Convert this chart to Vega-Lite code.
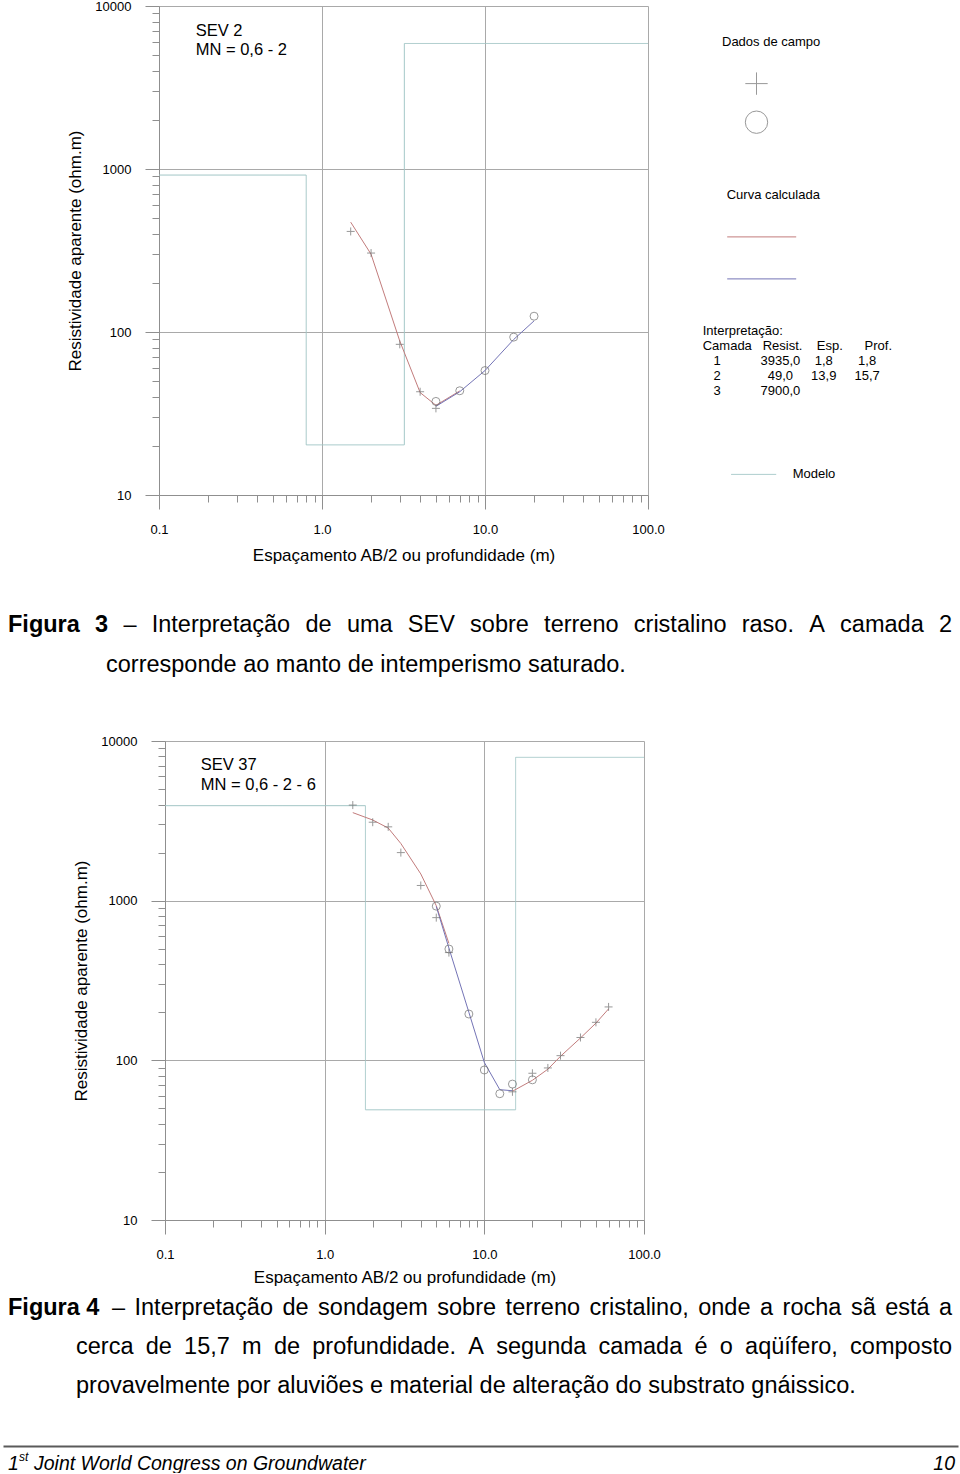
{
  "$schema": "https://vega.github.io/schema/vega-lite/v6.json",
  "background": "white",
  "padding": {"left": 8, "top": 0, "right": 0, "bottom": 0},
  "spacing": 0,
  "bounds": "flush",
  "config": {
    "font": "Liberation Sans",
    "view": {"stroke": null},
    "text": {"font": "Liberation Sans", "color": "#000000", "baseline": "middle", "fontSize": 23.5, "align": "left"},
    "axis": {"labelFont": "Liberation Sans", "titleFont": "Liberation Sans"},
    "legend": {
      "orient": "none", "padding": 0,
      "titleFont": "Liberation Sans", "titleFontSize": 13, "titleFontWeight": "normal", "titleColor": "#000000", "titleLimit": 500,
      "labelFont": "Liberation Sans", "labelFontSize": 13, "labelColor": "#000000", "labelLimit": 500
    }
  },
  "vconcat": [
    {
      "width": 489,
      "height": 489,
      "resolve": {"axis": {"x": "independent", "y": "independent"}},
      "layer": [
        {
          "data": {"values": [
            {"ab2": 0.1, "rho": 918, "serie": "Modelo"},
            {"ab2": 0.8, "rho": 20.3, "serie": "Modelo"},
            {"ab2": 3.2, "rho": 5890, "serie": "Modelo"},
            {"ab2": 100, "rho": 5890, "serie": "Modelo"}
          ]},
          "mark": {"type": "line", "interpolate": "step-after", "color": "#a2c6c6", "strokeWidth": 1},
          "encoding": {
            "x": {
              "field": "ab2", "type": "quantitative",
              "scale": {"type": "log", "domain": [0.1, 100], "nice": false},
              "axis": {
                "orient": "bottom", "values": [0.1, 1, 10, 100], "format": ".1f",
                "tickSize": 14, "grid": true, "gridColor": "#a9a9a9", "gridWidth": 1,
                "domainColor": "#8f8f8f", "tickColor": "#8f8f8f", "tickWidth": 1,
                "labelFontSize": 13, "labelColor": "#000000", "labelPadding": 14, "labelFlush": false, "labelOverlap": false,
                "title": "Espaçamento AB/2 ou profundidade (m)", "titleFontSize": 17, "titleFontWeight": "normal", "titleColor": "#000000", "titlePadding": 11
              }
            },
            "y": {
              "field": "rho", "type": "quantitative",
              "scale": {"type": "log", "domain": [10, 10000], "nice": false},
              "axis": {
                "orient": "left", "values": [10, 100, 1000, 10000], "format": "d",
                "tickSize": 14, "grid": true, "gridColor": "#a9a9a9", "gridWidth": 1,
                "domainColor": "#8f8f8f", "tickColor": "#8f8f8f", "tickWidth": 1,
                "labelFontSize": 13, "labelColor": "#000000", "labelPadding": 14, "labelFlush": false, "labelOverlap": false,
                "title": "Resistividade aparente (ohm.m)", "titleFontSize": 17, "titleFontWeight": "normal", "titleColor": "#000000", "titlePadding": 10
              }
            },
            "strokeDash": {
              "field": "serie", "type": "nominal",
              "scale": {"domain": ["Modelo"], "range": [[1, 0]]},
              "legend": {"title": null, "legendX": 571.7, "legendY": 445.4, "symbolType": "stroke", "symbolSize": 2025, "symbolStrokeColor": "#a2c6c6", "symbolStrokeWidth": 1, "symbolOffset": 0, "labelOffset": 16}
            }
          }
        },
        {
          "data": {"values": [
            {"ab2": 1.5, "rho": 472, "curva": "vermelha", "trecho": "v1"},
            {"ab2": 2, "rho": 300, "curva": "vermelha", "trecho": "v1"},
            {"ab2": 3, "rho": 88, "curva": "vermelha", "trecho": "v1"},
            {"ab2": 4, "rho": 42.5, "curva": "vermelha", "trecho": "v1"},
            {"ab2": 5, "rho": 35.5, "curva": "vermelha", "trecho": "v1"},
            {"ab2": 7, "rho": 43.5, "curva": "vermelha", "trecho": "v1"},
            {"ab2": 5, "rho": 35, "curva": "azul", "trecho": "a1"},
            {"ab2": 7, "rho": 43, "curva": "azul", "trecho": "a1"},
            {"ab2": 10, "rho": 58, "curva": "azul", "trecho": "a1"},
            {"ab2": 15, "rho": 90, "curva": "azul", "trecho": "a1"},
            {"ab2": 20, "rho": 117, "curva": "azul", "trecho": "a1"}
          ]},
          "mark": {"type": "line", "strokeWidth": 1},
          "encoding": {
            "x": {
              "field": "ab2", "type": "quantitative",
              "scale": {"type": "log", "domain": [0.1, 100], "nice": false},
              "axis": {"orient": "bottom", "values": [0.2, 0.3, 0.4, 0.5, 0.6, 0.7, 0.8, 0.9, 2, 3, 4, 5, 6, 7, 8, 9, 20, 30, 40, 50, 60, 70, 80, 90], "tickSize": 7, "tickColor": "#8f8f8f", "tickWidth": 1, "labels": false, "domain": false, "grid": false, "title": null}
            },
            "y": {
              "field": "rho", "type": "quantitative",
              "scale": {"type": "log", "domain": [10, 10000], "nice": false},
              "axis": {"orient": "left", "values": [20, 30, 40, 50, 60, 70, 80, 90, 200, 300, 400, 500, 600, 700, 800, 900, 2000, 3000, 4000, 5000, 6000, 7000, 8000, 9000], "tickSize": 7, "tickColor": "#8f8f8f", "tickWidth": 1, "labels": false, "domain": false, "grid": false, "title": null}
            },
            "detail": {"field": "trecho", "type": "nominal"},
            "color": {
              "field": "curva", "type": "nominal",
              "scale": {"domain": ["vermelha", "azul"], "range": ["#c27c7c", "#7474b6"]},
              "legend": {"title": "Curva calculada", "legendX": 567.7, "legendY": 182.9, "symbolType": "stroke", "symbolSize": 4761, "symbolStrokeWidth": 1, "symbolOffset": 0, "titlePadding": 0, "rowPadding": -30, "labelExpr": "''"}
            }
          }
        },
        {
          "data": {"values": [
            {"ab2": 1.5, "rho": 414, "tipo": "cruz"},
            {"ab2": 2, "rho": 305, "tipo": "cruz"},
            {"ab2": 3, "rho": 84, "tipo": "cruz"},
            {"ab2": 4, "rho": 43, "tipo": "cruz"},
            {"ab2": 5, "rho": 34, "tipo": "cruz"},
            {"ab2": 5, "rho": 37.5, "tipo": "circulo"},
            {"ab2": 7, "rho": 43.6, "tipo": "circulo"},
            {"ab2": 10, "rho": 58, "tipo": "circulo"},
            {"ab2": 15, "rho": 93, "tipo": "circulo"},
            {"ab2": 20, "rho": 125, "tipo": "circulo"}
          ]},
          "mark": {"type": "point", "filled": false, "size": 64, "strokeWidth": 1, "color": "#6e6e6e"},
          "encoding": {
            "x": {"field": "ab2", "type": "quantitative", "scale": {"type": "log", "domain": [0.1, 100], "nice": false}, "axis": null},
            "y": {"field": "rho", "type": "quantitative", "scale": {"type": "log", "domain": [10, 10000], "nice": false}, "axis": null},
            "shape": {
              "field": "tipo", "type": "nominal",
              "scale": {"domain": ["cruz", "circulo"], "range": ["M-1,0L1,0M0,-1L0,1", "circle"]},
              "legend": {"title": "Dados de campo", "legendX": 563, "legendY": 29.6, "symbolSize": 500, "symbolStrokeWidth": 1, "symbolStrokeColor": "#6e6e6e", "symbolOffset": 22.5, "titlePadding": 23, "rowPadding": 10.6, "labelExpr": "''"}
            }
          }
        },
        {
          "data": {"values": [{"rotulo": "SEV 2"}]},
          "mark": {"type": "text", "align": "left", "baseline": "top", "fontSize": 16.5, "lineHeight": 19.3},
          "encoding": {
            "x": {"datum": 0.168, "type": "quantitative", "scale": {"type": "log", "domain": [0.1, 100], "nice": false}, "axis": null},
            "y": {"datum": 7910, "type": "quantitative", "scale": {"type": "log", "domain": [10, 10000], "nice": false}, "axis": null},
            "text": {"value": ["SEV 2", "MN = 0,6 - 2"]}
          }
        },
        {
          "data": {"values": [{"item": "interpretacao"}]},
          "mark": {"type": "point"},
          "encoding": {
            "opacity": {
              "field": "item", "type": "nominal",
              "scale": {"domain": ["interpretacao"], "range": [0, 0]},
              "legend": {
                "title": [
                  "Interpretação:",
                  "Camada\u00a0\u00a0\u00a0Resist.\u00a0\u00a0\u00a0\u00a0Esp.\u00a0\u00a0\u00a0\u00a0\u00a0\u00a0Prof.",
                  "\u200b\u00a0\u00a0\u00a01\u00a0\u00a0\u00a0\u00a0\u00a0\u00a0\u00a0\u00a0\u00a0\u00a0\u00a03935,0\u00a0\u00a0\u00a0\u00a01,8\u00a0\u00a0\u00a0\u00a0\u00a0\u00a0\u00a01,8",
                  "\u200b\u00a0\u00a0\u00a02\u00a0\u00a0\u00a0\u00a0\u00a0\u00a0\u00a0\u00a0\u00a0\u00a0\u00a0\u00a0\u00a049,0\u00a0\u00a0\u00a0\u00a0\u00a013,9\u00a0\u00a0\u00a0\u00a0\u00a015,7",
                  "\u200b\u00a0\u00a0\u00a03\u00a0\u00a0\u00a0\u00a0\u00a0\u00a0\u00a0\u00a0\u00a0\u00a0\u00a07900,0"
                ],
                "titleLineHeight": 15.2,
                "legendX": 543.7, "legendY": 318.6,
                "symbolSize": 1, "symbolOpacity": 0, "symbolStrokeWidth": 0, "labelExpr": "''", "titlePadding": 0
              }
            }
          }
        }
      ]
    },
    {
      "width": 2,
      "height": 246,
      "data": {"values": [
        {"p": "w01", "t": "Figura"},
        {"p": "w02", "t": "3"},
        {"p": "w03", "t": "–"},
        {"p": "w04", "t": "Interpretação"},
        {"p": "w05", "t": "de"},
        {"p": "w06", "t": "uma"},
        {"p": "w07", "t": "SEV"},
        {"p": "w08", "t": "sobre"},
        {"p": "w09", "t": "terreno"},
        {"p": "w10", "t": "cristalino"},
        {"p": "w11", "t": "raso."},
        {"p": "w12", "t": "A"},
        {"p": "w13", "t": "camada"},
        {"p": "w14", "t": "2"},
        {"p": "l2", "t": "corresponde ao manto de intemperismo saturado."}
      ]},
      "encoding": {"text": {"field": "t", "type": "nominal"}},
      "layer": [
        {"transform": [{"filter": "datum.p === 'w01'"}], "mark": {"type": "text", "fontWeight": "bold", "dx": -152, "dy": 7}},
        {"transform": [{"filter": "datum.p === 'w02'"}], "mark": {"type": "text", "fontWeight": "bold", "dx": -65, "dy": 7}},
        {"transform": [{"filter": "datum.p === 'w03'"}], "mark": {"type": "text", "dx": -36.6, "dy": 7}},
        {"transform": [{"filter": "datum.p === 'w04'"}], "mark": {"type": "text", "dx": -8.3, "dy": 7}},
        {"transform": [{"filter": "datum.p === 'w05'"}], "mark": {"type": "text", "dx": 145.5, "dy": 7}},
        {"transform": [{"filter": "datum.p === 'w06'"}], "mark": {"type": "text", "dx": 186.9, "dy": 7}},
        {"transform": [{"filter": "datum.p === 'w07'"}], "mark": {"type": "text", "dx": 247.8, "dy": 7}},
        {"transform": [{"filter": "datum.p === 'w08'"}], "mark": {"type": "text", "dx": 310.1, "dy": 7}},
        {"transform": [{"filter": "datum.p === 'w09'"}], "mark": {"type": "text", "dx": 384.1, "dy": 7}},
        {"transform": [{"filter": "datum.p === 'w10'"}], "mark": {"type": "text", "dx": 473.8, "dy": 7}},
        {"transform": [{"filter": "datum.p === 'w11'"}], "mark": {"type": "text", "dx": 581.7, "dy": 7}},
        {"transform": [{"filter": "datum.p === 'w12'"}], "mark": {"type": "text", "dx": 649.2, "dy": 7}},
        {"transform": [{"filter": "datum.p === 'w13'"}], "mark": {"type": "text", "dx": 680.1, "dy": 7}},
        {"transform": [{"filter": "datum.p === 'w14'"}], "mark": {"type": "text", "align": "right", "dx": 792, "dy": 7}},
        {"transform": [{"filter": "datum.p === 'l2'"}], "mark": {"type": "text", "dx": -54, "dy": 47}}
      ]
    },
    {
      "width": 485,
      "height": 479,
      "resolve": {"axis": {"x": "independent", "y": "independent"}},
      "layer": [
        {
          "data": {"values": [
            {"ab2": 0.1, "rho": 3935, "serie": "Modelo"},
            {"ab2": 1.8, "rho": 49, "serie": "Modelo"},
            {"ab2": 15.7, "rho": 7900, "serie": "Modelo"},
            {"ab2": 100, "rho": 7900, "serie": "Modelo"}
          ]},
          "mark": {"type": "line", "interpolate": "step-after", "color": "#a2c6c6", "strokeWidth": 1},
          "encoding": {
            "x": {
              "field": "ab2", "type": "quantitative",
              "scale": {"type": "log", "domain": [0.1, 100], "nice": false, "range": [6, 485]},
              "axis": {
                "orient": "bottom", "values": [0.1, 1, 10, 100], "format": ".1f",
                "tickSize": 14, "grid": true, "gridColor": "#a9a9a9", "gridWidth": 1,
                "domainColor": "#8f8f8f", "tickColor": "#8f8f8f", "tickWidth": 1,
                "labelFontSize": 13, "labelColor": "#000000", "labelPadding": 14, "labelFlush": false, "labelOverlap": false,
                "title": "Espaçamento AB/2 ou profundidade (m)", "titleFontSize": 17, "titleFontWeight": "normal", "titleColor": "#000000", "titlePadding": 8
              }
            },
            "y": {
              "field": "rho", "type": "quantitative",
              "scale": {"type": "log", "domain": [10, 10000], "nice": false},
              "axis": {
                "orient": "left", "offset": -6, "values": [10, 100, 1000, 10000], "format": "d",
                "tickSize": 14, "grid": true, "gridColor": "#a9a9a9", "gridWidth": 1,
                "domainColor": "#8f8f8f", "tickColor": "#8f8f8f", "tickWidth": 1,
                "labelFontSize": 13, "labelColor": "#000000", "labelPadding": 14, "labelFlush": false, "labelOverlap": false,
                "title": "Resistividade aparente (ohm.m)", "titleFontSize": 17, "titleFontWeight": "normal", "titleColor": "#000000", "titlePadding": 10
              }
            },
            "strokeDash": {
              "field": "serie", "type": "nominal",
              "scale": {"domain": ["Modelo"], "range": [[1, 0]]},
              "legend": {"title": null, "legendX": 567, "legendY": 436.8, "symbolType": "stroke", "symbolSize": 2025, "symbolStrokeColor": "#a2c6c6", "symbolStrokeWidth": 1, "symbolOffset": 0, "labelOffset": 15}
            }
          }
        },
        {
          "data": {"values": [
            {"ab2": 1.5, "rho": 3560, "curva": "vermelha", "trecho": "v1"},
            {"ab2": 2, "rho": 3200, "curva": "vermelha", "trecho": "v1"},
            {"ab2": 2.5, "rho": 2850, "curva": "vermelha", "trecho": "v1"},
            {"ab2": 3, "rho": 2280, "curva": "vermelha", "trecho": "v1"},
            {"ab2": 4, "rho": 1470, "curva": "vermelha", "trecho": "v1"},
            {"ab2": 5, "rho": 930, "curva": "vermelha", "trecho": "v1"},
            {"ab2": 6, "rho": 540, "curva": "vermelha", "trecho": "v1"},
            {"ab2": 15, "rho": 64, "curva": "vermelha", "trecho": "v2"},
            {"ab2": 20, "rho": 75, "curva": "vermelha", "trecho": "v2"},
            {"ab2": 25, "rho": 88, "curva": "vermelha", "trecho": "v2"},
            {"ab2": 30, "rho": 106, "curva": "vermelha", "trecho": "v2"},
            {"ab2": 40, "rho": 138, "curva": "vermelha", "trecho": "v2"},
            {"ab2": 50, "rho": 171, "curva": "vermelha", "trecho": "v2"},
            {"ab2": 60, "rho": 210, "curva": "vermelha", "trecho": "v2"},
            {"ab2": 5, "rho": 920, "curva": "azul", "trecho": "a1"},
            {"ab2": 6, "rho": 505, "curva": "azul", "trecho": "a1"},
            {"ab2": 8, "rho": 200, "curva": "azul", "trecho": "a1"},
            {"ab2": 10, "rho": 97, "curva": "azul", "trecho": "a1"},
            {"ab2": 12.5, "rho": 65.5, "curva": "azul", "trecho": "a1"},
            {"ab2": 15, "rho": 64.5, "curva": "azul", "trecho": "a1"}
          ]},
          "mark": {"type": "line", "strokeWidth": 1},
          "encoding": {
            "x": {
              "field": "ab2", "type": "quantitative",
              "scale": {"type": "log", "domain": [0.1, 100], "nice": false, "range": [6, 485]},
              "axis": {"orient": "bottom", "values": [0.2, 0.3, 0.4, 0.5, 0.6, 0.7, 0.8, 0.9, 2, 3, 4, 5, 6, 7, 8, 9, 20, 30, 40, 50, 60, 70, 80, 90], "tickSize": 7, "tickColor": "#8f8f8f", "tickWidth": 1, "labels": false, "domain": false, "grid": false, "title": null}
            },
            "y": {
              "field": "rho", "type": "quantitative",
              "scale": {"type": "log", "domain": [10, 10000], "nice": false},
              "axis": {"orient": "left", "offset": -6, "values": [20, 30, 40, 50, 60, 70, 80, 90, 200, 300, 400, 500, 600, 700, 800, 900, 2000, 3000, 4000, 5000, 6000, 7000, 8000, 9000], "tickSize": 7, "tickColor": "#8f8f8f", "tickWidth": 1, "labels": false, "domain": false, "grid": false, "title": null}
            },
            "detail": {"field": "trecho", "type": "nominal"},
            "color": {
              "field": "curva", "type": "nominal",
              "scale": {"domain": ["vermelha", "azul"], "range": ["#c27c7c", "#7474b6"]},
              "legend": {"title": "Curva calculada", "legendX": 564.1, "legendY": 178.6, "symbolType": "stroke", "symbolSize": 4624, "symbolStrokeWidth": 1, "symbolOffset": 0, "titlePadding": 0, "rowPadding": -30, "labelExpr": "''"}
            }
          }
        },
        {
          "data": {"values": [
            {"ab2": 1.5, "rho": 3970, "tipo": "cruz"},
            {"ab2": 2, "rho": 3100, "tipo": "cruz"},
            {"ab2": 2.5, "rho": 2900, "tipo": "cruz"},
            {"ab2": 3, "rho": 2000, "tipo": "cruz"},
            {"ab2": 4, "rho": 1245, "tipo": "cruz"},
            {"ab2": 5, "rho": 783, "tipo": "cruz"},
            {"ab2": 6, "rho": 473, "tipo": "cruz"},
            {"ab2": 15, "rho": 63.5, "tipo": "cruz"},
            {"ab2": 20, "rho": 83, "tipo": "cruz"},
            {"ab2": 25, "rho": 89.6, "tipo": "cruz"},
            {"ab2": 30, "rho": 107, "tipo": "cruz"},
            {"ab2": 40, "rho": 139, "tipo": "cruz"},
            {"ab2": 50, "rho": 173, "tipo": "cruz"},
            {"ab2": 60, "rho": 216, "tipo": "cruz"},
            {"ab2": 5, "rho": 924, "tipo": "circulo"},
            {"ab2": 6, "rho": 498, "tipo": "circulo"},
            {"ab2": 8, "rho": 195, "tipo": "circulo"},
            {"ab2": 10, "rho": 87, "tipo": "circulo"},
            {"ab2": 12.5, "rho": 61.8, "tipo": "circulo"},
            {"ab2": 15, "rho": 71, "tipo": "circulo"},
            {"ab2": 20, "rho": 75.5, "tipo": "circulo"}
          ]},
          "mark": {"type": "point", "filled": false, "size": 64, "strokeWidth": 1, "color": "#6e6e6e"},
          "encoding": {
            "x": {"field": "ab2", "type": "quantitative", "scale": {"type": "log", "domain": [0.1, 100], "nice": false, "range": [6, 485]}, "axis": null},
            "y": {"field": "rho", "type": "quantitative", "scale": {"type": "log", "domain": [10, 10000], "nice": false}, "axis": null},
            "shape": {
              "field": "tipo", "type": "nominal",
              "scale": {"domain": ["cruz", "circulo"], "range": ["M-1,0L1,0M0,-1L0,1", "circle"]},
              "legend": {"title": "Dados de campo", "legendX": 559.1, "legendY": 28.6, "symbolSize": 500, "symbolStrokeWidth": 1, "symbolStrokeColor": "#6e6e6e", "symbolOffset": 22.8, "titlePadding": 22.5, "rowPadding": 10, "labelExpr": "''"}
            }
          }
        },
        {
          "data": {"values": [{"rotulo": "SEV 37"}]},
          "mark": {"type": "text", "align": "left", "baseline": "top", "fontSize": 16.5, "lineHeight": 19.6},
          "encoding": {
            "x": {"datum": 0.1675, "type": "quantitative", "scale": {"type": "log", "domain": [0.1, 100], "nice": false, "range": [6, 485]}, "axis": null},
            "y": {"datum": 7950, "type": "quantitative", "scale": {"type": "log", "domain": [10, 10000], "nice": false}, "axis": null},
            "text": {"value": ["SEV 37", "MN = 0,6 - 2 - 6"]}
          }
        },
        {
          "data": {"values": [{"item": "interpretacao"}]},
          "mark": {"type": "point"},
          "encoding": {
            "opacity": {
              "field": "item", "type": "nominal",
              "scale": {"domain": ["interpretacao"], "range": [0, 0]},
              "legend": {
                "title": [
                  "Interpretação:",
                  "Camada\u00a0\u00a0\u00a0Resist.\u00a0\u00a0\u00a0\u00a0Esp.\u00a0\u00a0\u00a0\u00a0\u00a0\u00a0Prof.",
                  "\u200b\u00a0\u00a0\u00a01\u00a0\u00a0\u00a0\u00a0\u00a0\u00a0\u00a0\u00a0\u00a0\u00a0\u00a03935,0\u00a0\u00a0\u00a0\u00a01,8\u00a0\u00a0\u00a0\u00a0\u00a0\u00a0\u00a01,8",
                  "\u200b\u00a0\u00a0\u00a02\u00a0\u00a0\u00a0\u00a0\u00a0\u00a0\u00a0\u00a0\u00a0\u00a0\u00a0\u00a0\u00a049,0\u00a0\u00a0\u00a0\u00a0\u00a013,9\u00a0\u00a0\u00a0\u00a0\u00a015,7",
                  "\u200b\u00a0\u00a0\u00a03\u00a0\u00a0\u00a0\u00a0\u00a0\u00a0\u00a0\u00a0\u00a0\u00a0\u00a07900,0"
                ],
                "titleLineHeight": 15,
                "legendX": 540.3, "legendY": 311.6,
                "symbolSize": 1, "symbolOpacity": 0, "symbolStrokeWidth": 0, "labelExpr": "''", "titlePadding": 0
              }
            }
          }
        }
      ]
    },
    {
      "width": 2,
      "height": 226,
      "data": {"values": [
        {"p": "a01", "t": "Figura 4"},
        {"p": "a02", "t": "–"},
        {"p": "a03", "t": "Interpretação"},
        {"p": "a04", "t": "de"},
        {"p": "a05", "t": "sondagem"},
        {"p": "a06", "t": "sobre"},
        {"p": "a07", "t": "terreno"},
        {"p": "a08", "t": "cristalino,"},
        {"p": "a09", "t": "onde"},
        {"p": "a10", "t": "a"},
        {"p": "a11", "t": "rocha"},
        {"p": "a12", "t": "sã"},
        {"p": "a13", "t": "está"},
        {"p": "a14", "t": "a"},
        {"p": "b01", "t": "cerca"},
        {"p": "b02", "t": "de"},
        {"p": "b03", "t": "15,7"},
        {"p": "b04", "t": "m"},
        {"p": "b05", "t": "de"},
        {"p": "b06", "t": "profundidade."},
        {"p": "b07", "t": "A"},
        {"p": "b08", "t": "segunda"},
        {"p": "b09", "t": "camada"},
        {"p": "b10", "t": "é"},
        {"p": "b11", "t": "o"},
        {"p": "b12", "t": "aqüífero,"},
        {"p": "b13", "t": "composto"},
        {"p": "c01", "t": "provavelmente por aluviões e material de alteração do substrato gnáissico."}
      ]},
      "encoding": {"text": {"field": "t", "type": "nominal"}},
      "layer": [
        {"transform": [{"filter": "datum.p === 'a01'"}], "mark": {"type": "text", "fontWeight": "bold", "dx": -152, "dy": -25}},
        {"transform": [{"filter": "datum.p === 'a02'"}], "mark": {"type": "text", "dx": -48.1, "dy": -25}},
        {"transform": [{"filter": "datum.p === 'a03'"}], "mark": {"type": "text", "dx": -25.5, "dy": -25}},
        {"transform": [{"filter": "datum.p === 'a04'"}], "mark": {"type": "text", "dx": 122.5, "dy": -25}},
        {"transform": [{"filter": "datum.p === 'a05'"}], "mark": {"type": "text", "dx": 158.1, "dy": -25}},
        {"transform": [{"filter": "datum.p === 'a06'"}], "mark": {"type": "text", "dx": 277.3, "dy": -25}},
        {"transform": [{"filter": "datum.p === 'a07'"}], "mark": {"type": "text", "dx": 345.6, "dy": -25}},
        {"transform": [{"filter": "datum.p === 'a08'"}], "mark": {"type": "text", "dx": 429.5, "dy": -25}},
        {"transform": [{"filter": "datum.p === 'a09'"}], "mark": {"type": "text", "dx": 538.2, "dy": -25}},
        {"transform": [{"filter": "datum.p === 'a10'"}], "mark": {"type": "text", "dx": 600, "dy": -25}},
        {"transform": [{"filter": "datum.p === 'a11'"}], "mark": {"type": "text", "dx": 622.6, "dy": -25}},
        {"transform": [{"filter": "datum.p === 'a12'"}], "mark": {"type": "text", "dx": 690.9, "dy": -25}},
        {"transform": [{"filter": "datum.p === 'a13'"}], "mark": {"type": "text", "dx": 725.2, "dy": -25}},
        {"transform": [{"filter": "datum.p === 'a14'"}], "mark": {"type": "text", "align": "right", "dx": 792, "dy": -25}},
        {"transform": [{"filter": "datum.p === 'b01'"}], "mark": {"type": "text", "dx": -84, "dy": 14}},
        {"transform": [{"filter": "datum.p === 'b02'"}], "mark": {"type": "text", "dx": -14.2, "dy": 14}},
        {"transform": [{"filter": "datum.p === 'b03'"}], "mark": {"type": "text", "dx": 24.1, "dy": 14}},
        {"transform": [{"filter": "datum.p === 'b04'"}], "mark": {"type": "text", "dx": 82.1, "dy": 14}},
        {"transform": [{"filter": "datum.p === 'b05'"}], "mark": {"type": "text", "dx": 114, "dy": 14}},
        {"transform": [{"filter": "datum.p === 'b06'"}], "mark": {"type": "text", "dx": 152.3, "dy": 14}},
        {"transform": [{"filter": "datum.p === 'b07'"}], "mark": {"type": "text", "dx": 308.2, "dy": 14}},
        {"transform": [{"filter": "datum.p === 'b08'"}], "mark": {"type": "text", "dx": 336.2, "dy": 14}},
        {"transform": [{"filter": "datum.p === 'b09'"}], "mark": {"type": "text", "dx": 438.6, "dy": 14}},
        {"transform": [{"filter": "datum.p === 'b10'"}], "mark": {"type": "text", "dx": 534.5, "dy": 14}},
        {"transform": [{"filter": "datum.p === 'b11'"}], "mark": {"type": "text", "dx": 559.8, "dy": 14}},
        {"transform": [{"filter": "datum.p === 'b12'"}], "mark": {"type": "text", "dx": 585.1, "dy": 14}},
        {"transform": [{"filter": "datum.p === 'b13'"}], "mark": {"type": "text", "align": "right", "dx": 792, "dy": 14}},
        {"transform": [{"filter": "datum.p === 'c01'"}], "mark": {"type": "text", "dx": -84, "dy": 53}}
      ]
    },
    {
      "width": 640,
      "height": 26,
      "data": {"values": [
        {"lado": "esq", "parte": "n", "texto": "1"},
        {"lado": "esq", "parte": "s", "texto": "st"},
        {"lado": "esq", "parte": "t", "texto": "Joint World Congress on Groundwater"},
        {"lado": "dir", "parte": "p", "texto": "10"}
      ]},
      "encoding": {
        "x": {
          "field": "lado", "type": "nominal",
          "scale": {"type": "point", "domain": ["esq", "dir"], "padding": 0, "range": [-156, 799]},
          "axis": {"orient": "top", "domain": true, "domainColor": "#5a5a5a", "domainWidth": 2, "ticks": false, "labels": false, "grid": false, "title": null}
        },
        "text": {"field": "texto", "type": "nominal"}
      },
      "layer": [
        {"transform": [{"filter": "datum.parte === 'n'"}], "mark": {"type": "text", "fontSize": 19.5, "fontStyle": "italic", "dx": 5, "dy": 4.5}},
        {"transform": [{"filter": "datum.parte === 's'"}], "mark": {"type": "text", "fontSize": 12, "fontStyle": "italic", "dx": 16, "dy": -2}},
        {"transform": [{"filter": "datum.parte === 't'"}], "mark": {"type": "text", "fontSize": 19.5, "fontStyle": "italic", "dx": 31, "dy": 4.5}},
        {"transform": [{"filter": "datum.parte === 'p'"}], "mark": {"type": "text", "align": "right", "fontSize": 19.5, "fontStyle": "italic", "dx": -3, "dy": 4.5}}
      ]
    }
  ]
}
